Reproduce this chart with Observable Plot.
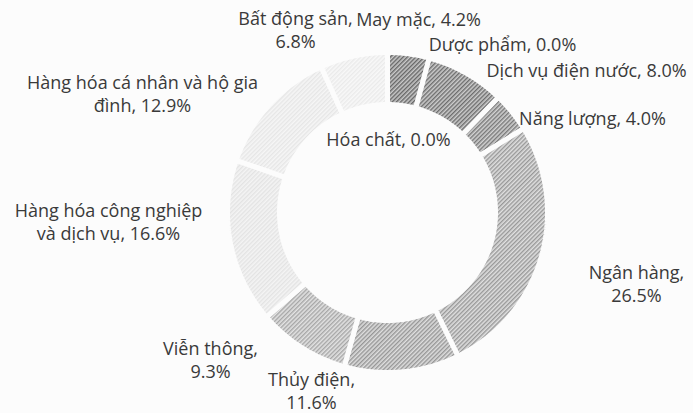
<!DOCTYPE html>
<html>
<head>
<meta charset="utf-8">
<script src="https://cdn.jsdelivr.net/npm/d3@7"></script>
<script src="https://cdn.jsdelivr.net/npm/@observablehq/plot@0.6"></script>
<style>
  html, body { margin: 0; padding: 0; background: #fcfcfc; }
  #chart { width: 693px; height: 413px; }
  svg { display: block; }
</style>
</head>
<body>
<div id="chart"></div>
<script>
// ---- data (clockwise from 12 o'clock) ----
const sectors = [
  "May mặc", "Dược phẩm", "Dịch vụ điện nước", "Năng lượng", "Hóa chất",
  "Ngân hàng", "Thủy điện", "Viễn thông", "Hàng hóa công nghiệp và dịch vụ",
  "Hàng hóa cá nhân và hộ gia đình", "Bất động sản"
];
const shares = [4.2, 0.0, 8.0, 4.0, 0.0, 26.5, 11.6, 9.3, 16.6, 12.9, 6.8];
const labelTexts = [
  "May mặc, 4.2%", "Dược phẩm, 0.0%", "Dịch vụ điện nước, 8.0%", "Năng lượng, 4.0%",
  "Hóa chất, 0.0%", "Ngân hàng,\n26.5%", "Thủy điện,\n11.6%", "Viễn thông,\n9.3%",
  "Hàng hóa công nghiệp\nvà dịch vụ, 16.6%", "Hàng hóa cá nhân và hộ gia\nđình, 12.9%",
  "Bất động sản,\n6.8%"
];

// ---- layout (kept separate from data) ----
const W = 693, H = 413;
const cx = 387, cy = 212, R = 160, r = 108;
const labelPos = [ // [x, y] block centres in the plot frame
  [418, 18], [502, 43], [586, 69], [592, 117], [388, 138],
  [636, 283], [311, 390], [210, 359], [108, 221], [142, 93], [295, 29]
];
const tones = [ // [background, hatch line]
  ["#c9c9c9", "#555"], ["#ddd", "#888"], ["#cdcdcd", "#5c5c5c"], ["#d2d2d2", "#686868"],
  ["#ddd", "#888"], ["#e0e0e0", "#8c8c8c"], ["#dedede", "#8a8a8a"], ["#e3e3e3", "#9c9c9c"],
  ["#f4f4f4", "#e0e0e0"], ["#f6f6f6", "#e4e4e4"], ["#f8f8f8", "#e8e8e8"]
];

// ---- build slice polygons from the data ----
const pie = d3.pie().sort(null).value(d => d.value).startAngle(0).endAngle(2 * Math.PI);
const data = sectors.map((name, i) => ({name, value: shares[i], i}));
const arcs = pie(data);
const polys = [];
for (const a of arcs) {
  if (a.data.value <= 0) continue;
  const n = Math.max(4, Math.ceil((a.endAngle - a.startAngle) * 60));
  const pts = [];
  for (let k = 0; k <= n; k++) {
    const t = a.startAngle + (a.endAngle - a.startAngle) * k / n;
    pts.push([cx + R * Math.sin(t), cy - R * Math.cos(t)]);
  }
  for (let k = n; k >= 0; k--) {
    const t = a.startAngle + (a.endAngle - a.startAngle) * k / n;
    pts.push([cx + r * Math.sin(t), cy - r * Math.cos(t)]);
  }
  pts.push(pts[0]);
  for (const p of pts) polys.push({name: a.data.name, x: p[0], y: p[1]});
}
const labels = sectors.map((name, i) => ({name, text: labelTexts[i], x: labelPos[i][0], y: labelPos[i][1]}));

const plot = Plot.plot({
  width: W, height: H,
  margin: 0,
  style: {background: "transparent", fontFamily: "'Open Sans', sans-serif"},
  x: {domain: [0, W], range: [0, W], axis: null},
  y: {domain: [0, H], range: [0, H], axis: null},
  color: {domain: sectors, range: sectors.map((_, i) => `url(#hatch${i})`)},
  marks: [
    Plot.line(polys, {x: "x", y: "y", z: "name", fill: "name", stroke: "#fcfcfc", strokeWidth: 5, strokeLinejoin: "miter", curve: "linear"}),
    Plot.text(labels, {x: "x", y: "y", text: "text", fontSize: 18, lineHeight: 1.24, fill: "#3a3a3a", textAnchor: "middle"})
  ]
});

// hatch pattern definitions
const svgNS = "http://www.w3.org/2000/svg";
const defs = document.createElementNS(svgNS, "defs");
tones.forEach(([bg, ln], i) => {
  const p = document.createElementNS(svgNS, "pattern");
  p.setAttribute("id", `hatch${i}`);
  p.setAttribute("patternUnits", "userSpaceOnUse");
  p.setAttribute("width", "3");
  p.setAttribute("height", "3");
  p.setAttribute("patternTransform", "rotate(45)");
  const rect = document.createElementNS(svgNS, "rect");
  rect.setAttribute("width", "3"); rect.setAttribute("height", "3"); rect.setAttribute("fill", bg);
  const line = document.createElementNS(svgNS, "line");
  line.setAttribute("x1", "0.75"); line.setAttribute("y1", "0");
  line.setAttribute("x2", "0.75"); line.setAttribute("y2", "3");
  line.setAttribute("stroke", ln); line.setAttribute("stroke-width", "1.2");
  p.appendChild(rect); p.appendChild(line);
  defs.appendChild(p);
});
plot.insertBefore(defs, plot.firstChild);
document.getElementById("chart").appendChild(plot);
</script>
</body>
</html>
